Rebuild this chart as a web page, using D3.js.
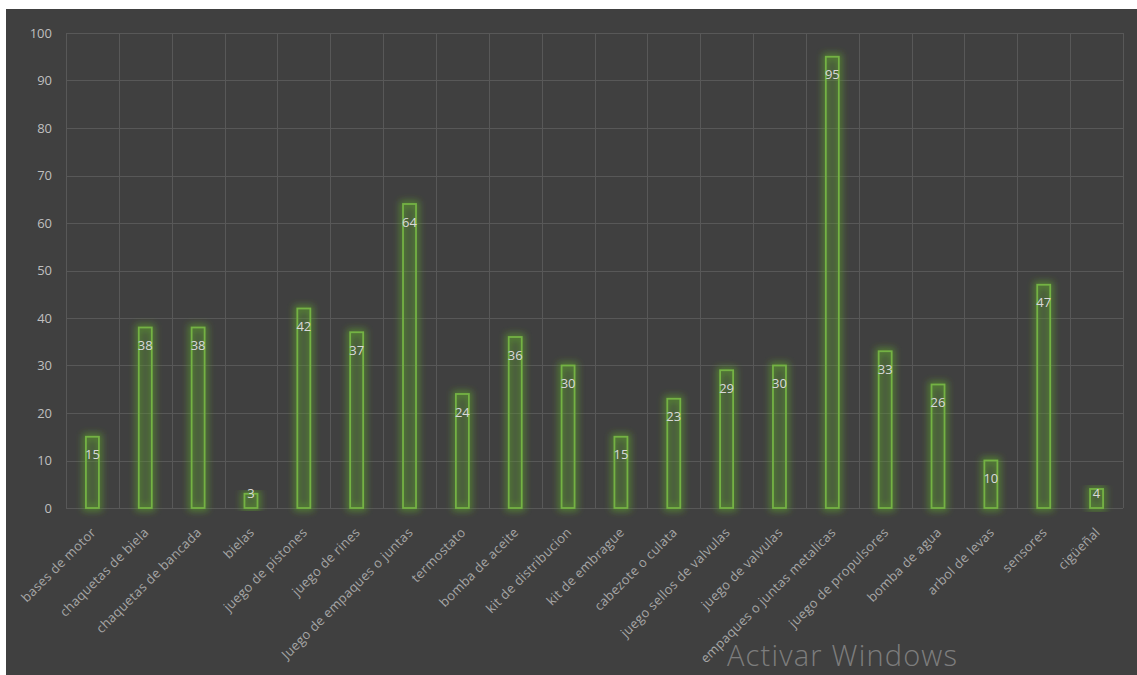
<!DOCTYPE html>
<html>
<head>
<meta charset="utf-8">
<script src="https://cdn.jsdelivr.net/npm/d3@7"></script>
<style>
  html, body { margin: 0; padding: 0; background: #ffffff; }
  svg { display: block; }
</style>
</head>
<body>
<svg id="chart" width="1137" height="675"></svg>
<script>
// Parts requested, one bar per part
const categories = [
  "bases de motor", "chaquetas de biela", "chaquetas de bancada", "bielas",
  "juego de pistones", "juego de rines", "Juego de empaques o juntas", "termostato",
  "bomba de aceite", "kit de distribucion", "kit de embrague", "cabezote o culata",
  "juego sellos de valvulas", "juego de valvulas", "empaques o juntas metalicas",
  "juego de propulsores", "bomba de agua", "arbol de levas", "sensores", "cigüeñal"
];
const values = [15, 38, 38, 3, 42, 37, 64, 24, 36, 30, 15, 23, 29, 30, 95, 33, 26, 10, 47, 4];
const yTicks = [0, 10, 20, 30, 40, 50, 60, 70, 80, 90, 100];

const W = 1137, H = 675;
const margin = { left: 66, right: 14, top: 33, bottom: 167 };
const svg = d3.select("#chart");

// dark panel
svg.append("rect").attr("x", 6).attr("y", 9).attr("width", W - 6).attr("height", H - 9)
  .attr("fill", "#404040");

const defs = svg.append("defs");
const glow = defs.append("filter").attr("id", "glow")
  .attr("x", "-100%").attr("y", "-20%").attr("width", "300%").attr("height", "140%");
glow.append("feGaussianBlur").attr("in", "SourceGraphic").attr("stdDeviation", 3.5).attr("result", "b");
const merge = glow.append("feMerge");
merge.append("feMergeNode").attr("in", "b");

const x = d3.scaleBand().domain(categories)
  .range([margin.left, W - margin.right]).paddingInner(0).paddingOuter(0);
const y = d3.scaleLinear().domain([0, 100]).range([H - margin.bottom, margin.top]);

const font = "'Open Sans', 'Noto Sans', sans-serif";

// grid
const grid = svg.append("g");
grid.selectAll("line.h").data(yTicks).join("line")
  .attr("x1", margin.left).attr("x2", W - margin.right)
  .attr("y1", d => Math.round(y(d)) + 0.5).attr("y2", d => Math.round(y(d)) + 0.5)
  .attr("stroke", "#585858").attr("stroke-width", 1);
const bounds = categories.map(c => x(c)).concat([x.range()[1]]);
grid.selectAll("line.v").data(bounds).join("line")
  .attr("x1", d => Math.round(d) + 0.5).attr("x2", d => Math.round(d) + 0.5)
  .attr("y1", y(100)).attr("y2", y(0))
  .attr("stroke", "#585858").attr("stroke-width", 1);

// y axis labels
const yAxis = d3.axisLeft(y).tickValues(yTicks).tickSize(0).tickPadding(14);
const yg = svg.append("g").attr("transform", `translate(${margin.left},0)`).call(yAxis);
yg.select(".domain").remove();
yg.selectAll("text").attr("fill", "#bfbfbf").style("font-family", font).style("font-size", "13px");

// bars
const barW = 13;
const bars = svg.append("g");
bars.selectAll("rect.glow").data(values).join("rect")
  .attr("x", (d, i) => x(categories[i]) + x.bandwidth() / 2 - barW / 2)
  .attr("y", d => y(d))
  .attr("width", barW)
  .attr("height", d => y(0) - y(d))
  .attr("fill", "none").attr("stroke", "#5c9a2e").attr("stroke-width", 6)
  .attr("stroke-opacity", 0.75)
  .attr("filter", "url(#glow)");
bars.selectAll("rect.bar").data(values).join("rect")
  .attr("x", (d, i) => x(categories[i]) + x.bandwidth() / 2 - barW / 2)
  .attr("y", d => y(d))
  .attr("width", barW)
  .attr("height", d => y(0) - y(d))
  .attr("fill", "#5e8f3c").attr("fill-opacity", 0.18)
  .attr("stroke", "#74b244").attr("stroke-width", 1.8);

// value labels
svg.append("g").selectAll("text").data(values).join("text")
  .attr("x", (d, i) => x(categories[i]) + x.bandwidth() / 2)
  .attr("y", d => Math.min(y(d) + 18, 493))
  .attr("dy", "0.35em")
  .attr("text-anchor", "middle")
  .attr("fill", "#d9d9d9")
  .style("font-family", font).style("font-size", "13px")
  .text(d => d);

// category labels
svg.append("g").selectAll("text").data(categories).join("text")
  .attr("transform", d => `translate(${x(d) + x.bandwidth() / 2 + 1},${y(0) + 22}) rotate(-45)`)
  .attr("text-anchor", "end")
  .attr("dy", "0.35em")
  .attr("fill", "#a6a6a6")
  .style("font-family", font).style("font-size", "13px")
  .style("letter-spacing", "0.3px")
  .text(d => d);

// system watermark text
svg.append("text").attr("x", 727).attr("y", 666)
  .attr("fill", "#7d7d7d")
  .style("font-family", "'Open Sans', 'Noto Sans', sans-serif")
  .style("font-weight", 300)
  .style("font-size", "29px")
  .style("letter-spacing", "1.2px")
  .text("Activar Windows");
</script>
</body>
</html>
